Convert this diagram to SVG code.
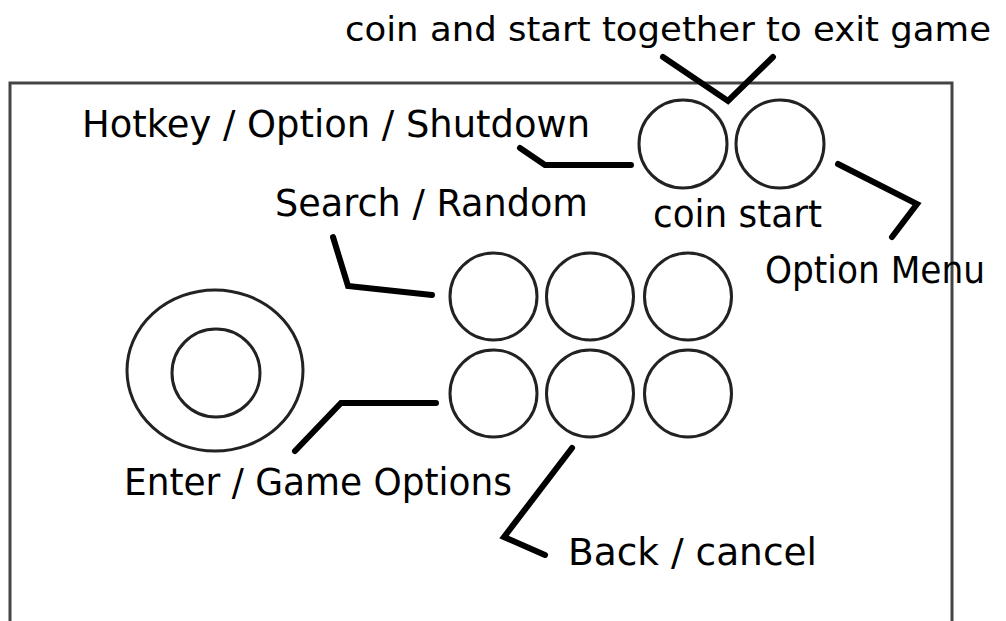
<svg xmlns="http://www.w3.org/2000/svg" width="1006" height="621" viewBox="0 0 1006 621">
<style>
.btn{fill:none;stroke:#222;stroke-width:3}
.conn{fill:none;stroke:#000;stroke-width:6;stroke-linecap:round;stroke-linejoin:miter}
.lbl{font-family:"DejaVu Sans","Liberation Sans",sans-serif;font-size:37px;fill:#000}
.top{font-size:34px}
</style>
<rect width="1006" height="621" fill="#fff"/>
<rect id="panel" x="10" y="83" width="942" height="570" fill="none" stroke="#444" stroke-width="3"/>
<g id="joystick">
<ellipse class="btn" cx="215" cy="370.5" rx="88" ry="80.5"/>
<circle class="btn" cx="216" cy="373" r="44"/>
</g>
<g id="coin"><circle class="btn" cx="683" cy="144" r="44"/></g>
<g id="start"><circle class="btn" cx="780" cy="144" r="44"/></g>
<g id="b1"><circle class="btn" cx="493.5" cy="296.5" r="43.5"/></g>
<g id="b2"><circle class="btn" cx="590" cy="296.5" r="43.5"/></g>
<g id="b3"><circle class="btn" cx="688" cy="296.5" r="43.5"/></g>
<g id="b4"><circle class="btn" cx="493.5" cy="393.5" r="43.5"/></g>
<g id="b5"><circle class="btn" cx="590" cy="393.5" r="43.5"/></g>
<g id="b6"><circle class="btn" cx="688" cy="393.5" r="43.5"/></g>
<g id="connectors">
<polyline class="conn" points="663,57 728,101 773,57"/>
<polyline class="conn" points="520,148 545,165 631,165"/>
<polyline class="conn" points="838,164 917,204 892,237"/>
<polyline class="conn" points="333,237 348,286 432,295"/>
<polyline class="conn" points="295,451 341,403 436,403"/>
<polyline class="conn" points="572,448 504,537 545,555"/>
</g>
<g id="labels">
<text class="lbl top" x="345" y="41" textLength="646" lengthAdjust="spacingAndGlyphs">coin and start together to exit game</text>
<text class="lbl" x="82" y="137" textLength="508" lengthAdjust="spacingAndGlyphs">Hotkey / Option / Shutdown</text>
<text class="lbl" x="275" y="216" textLength="313" lengthAdjust="spacingAndGlyphs">Search / Random</text>
<text class="lbl" x="653" y="227" textLength="169" lengthAdjust="spacingAndGlyphs">coin start</text>
<text class="lbl" x="765" y="283" textLength="220" lengthAdjust="spacingAndGlyphs">Option Menu</text>
<text class="lbl" x="124" y="495" textLength="388" lengthAdjust="spacingAndGlyphs">Enter / Game Options</text>
<text class="lbl" x="568" y="565" textLength="249" lengthAdjust="spacingAndGlyphs">Back / cancel</text>
</g>
</svg>
